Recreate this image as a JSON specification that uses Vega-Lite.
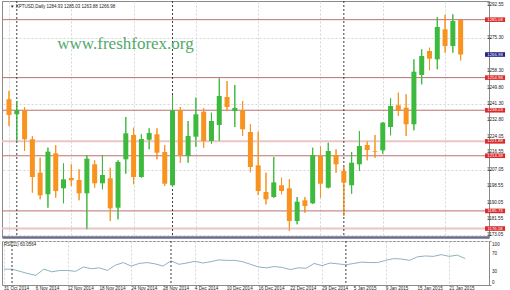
{
  "$schema": "https://vega.github.io/schema/vega-lite/v6.json",
  "background": "white",
  "padding": 0,
  "spacing": 2,
  "config": {
    "view": {"stroke": "#8a8a8a", "strokeWidth": 1},
    "axis": {"labels": false, "title": null, "gridColor": "#d6d6d6", "gridDash": [2, 2], "gridWidth": 1, "domainColor": "#8a8a8a", "tickColor": "#8a8a8a"},
    "text": {"font": "Liberation Sans"}
  },
  "datasets": {
    "candles": [
      {"i": 0, "o": 1243.71, "h": 1248.03, "l": 1229.84, "c": 1235.56},
      {"i": 1, "o": 1235.92, "h": 1242.83, "l": 1222.05, "c": 1238.00},
      {"i": 2, "o": 1238.00, "h": 1239.71, "l": 1216.86, "c": 1222.93},
      {"i": 3, "o": 1222.93, "h": 1224.65, "l": 1195.19, "c": 1203.35},
      {"i": 4, "o": 1205.58, "h": 1213.37, "l": 1191.76, "c": 1193.84},
      {"i": 5, "o": 1194.36, "h": 1218.57, "l": 1187.40, "c": 1216.49},
      {"i": 6, "o": 1215.66, "h": 1219.97, "l": 1192.60, "c": 1196.08},
      {"i": 7, "o": 1197.48, "h": 1210.47, "l": 1189.68, "c": 1202.16},
      {"i": 8, "o": 1202.83, "h": 1209.95, "l": 1198.67, "c": 1201.64},
      {"i": 9, "o": 1201.79, "h": 1207.35, "l": 1191.24, "c": 1194.88},
      {"i": 10, "o": 1194.88, "h": 1214.78, "l": 1176.18, "c": 1212.85},
      {"i": 11, "o": 1209.95, "h": 1212.02, "l": 1197.79, "c": 1200.07},
      {"i": 12, "o": 1200.07, "h": 1214.62, "l": 1196.96, "c": 1204.39},
      {"i": 13, "o": 1202.67, "h": 1208.18, "l": 1180.49, "c": 1187.09},
      {"i": 14, "o": 1187.40, "h": 1212.02, "l": 1181.37, "c": 1211.14},
      {"i": 15, "o": 1212.54, "h": 1234.52, "l": 1205.06, "c": 1226.05},
      {"i": 16, "o": 1225.17, "h": 1228.96, "l": 1199.56, "c": 1203.35},
      {"i": 17, "o": 1203.35, "h": 1225.53, "l": 1202.98, "c": 1223.09},
      {"i": 18, "o": 1222.72, "h": 1228.65, "l": 1217.74, "c": 1226.21},
      {"i": 19, "o": 1225.53, "h": 1228.65, "l": 1212.54, "c": 1215.97},
      {"i": 20, "o": 1216.34, "h": 1219.97, "l": 1198.67, "c": 1199.87},
      {"i": 21, "o": 1199.04, "h": 1245.95, "l": 1198.15, "c": 1238.00},
      {"i": 22, "o": 1238.00, "h": 1239.71, "l": 1210.78, "c": 1214.78},
      {"i": 23, "o": 1214.26, "h": 1232.44, "l": 1210.78, "c": 1224.65},
      {"i": 24, "o": 1224.28, "h": 1244.54, "l": 1219.09, "c": 1235.92},
      {"i": 25, "o": 1237.27, "h": 1239.04, "l": 1218.57, "c": 1222.05},
      {"i": 26, "o": 1222.05, "h": 1236.75, "l": 1220.65, "c": 1232.44},
      {"i": 27, "o": 1230.36, "h": 1254.62, "l": 1222.05, "c": 1245.43},
      {"i": 28, "o": 1244.91, "h": 1253.22, "l": 1237.63, "c": 1239.71},
      {"i": 29, "o": 1237.63, "h": 1251.14, "l": 1229.32, "c": 1239.19},
      {"i": 30, "o": 1238.00, "h": 1242.83, "l": 1224.65, "c": 1228.13},
      {"i": 31, "o": 1226.73, "h": 1230.73, "l": 1205.79, "c": 1208.55},
      {"i": 32, "o": 1209.43, "h": 1226.88, "l": 1194.00, "c": 1196.08},
      {"i": 33, "o": 1195.56, "h": 1205.58, "l": 1189.16, "c": 1191.76},
      {"i": 34, "o": 1192.96, "h": 1213.74, "l": 1192.60, "c": 1200.56},
      {"i": 35, "o": 1199.04, "h": 1202.98, "l": 1194.36, "c": 1196.08},
      {"i": 36, "o": 1197.48, "h": 1202.16, "l": 1175.30, "c": 1180.49},
      {"i": 37, "o": 1180.49, "h": 1192.96, "l": 1178.78, "c": 1190.52},
      {"i": 38, "o": 1191.24, "h": 1192.96, "l": 1184.80, "c": 1188.28},
      {"i": 39, "o": 1189.68, "h": 1218.57, "l": 1189.32, "c": 1214.78},
      {"i": 40, "o": 1214.26, "h": 1219.09, "l": 1192.60, "c": 1199.87},
      {"i": 41, "o": 1197.79, "h": 1221.17, "l": 1197.48, "c": 1216.86},
      {"i": 42, "o": 1214.78, "h": 1217.74, "l": 1205.58, "c": 1209.95},
      {"i": 43, "o": 1206.47, "h": 1209.06, "l": 1183.09, "c": 1200.39},
      {"i": 44, "o": 1199.04, "h": 1216.34, "l": 1194.67, "c": 1210.78},
      {"i": 45, "o": 1209.95, "h": 1227.25, "l": 1206.47, "c": 1219.45},
      {"i": 46, "o": 1219.97, "h": 1222.05, "l": 1212.02, "c": 1217.38},
      {"i": 47, "o": 1216.86, "h": 1225.17, "l": 1213.37, "c": 1216.49},
      {"i": 48, "o": 1217.22, "h": 1231.92, "l": 1215.45, "c": 1231.56},
      {"i": 49, "o": 1229.32, "h": 1244.23, "l": 1225.01, "c": 1240.23},
      {"i": 50, "o": 1240.60, "h": 1247.14, "l": 1235.04, "c": 1238.00},
      {"i": 51, "o": 1239.35, "h": 1246.31, "l": 1224.65, "c": 1230.73},
      {"i": 52, "o": 1230.73, "h": 1264.49, "l": 1227.61, "c": 1258.05},
      {"i": 53, "o": 1256.34, "h": 1269.69, "l": 1251.51, "c": 1266.21},
      {"i": 54, "o": 1268.81, "h": 1270.52, "l": 1258.78, "c": 1264.80},
      {"i": 55, "o": 1264.49, "h": 1286.47, "l": 1259.30, "c": 1281.27},
      {"i": 56, "o": 1280.08, "h": 1287.51, "l": 1267.92, "c": 1271.40},
      {"i": 57, "o": 1271.40, "h": 1287.87, "l": 1267.92, "c": 1284.39},
      {"i": 58, "o": 1284.93, "h": 1285.03, "l": 1263.88, "c": 1266.98}
    ],
    "rsi": [
      {"i": 0, "v": 36}, {"i": 1, "v": 36}, {"i": 2, "v": 31}, {"i": 3, "v": 26}, {"i": 4, "v": 22},
      {"i": 5, "v": 36}, {"i": 6, "v": 30}, {"i": 7, "v": 33}, {"i": 8, "v": 33}, {"i": 9, "v": 31},
      {"i": 10, "v": 41}, {"i": 11, "v": 37}, {"i": 12, "v": 39}, {"i": 13, "v": 33}, {"i": 14, "v": 45},
      {"i": 15, "v": 51}, {"i": 16, "v": 43}, {"i": 17, "v": 49}, {"i": 18, "v": 51}, {"i": 19, "v": 48},
      {"i": 20, "v": 43}, {"i": 21, "v": 55}, {"i": 22, "v": 47}, {"i": 23, "v": 50}, {"i": 24, "v": 54},
      {"i": 25, "v": 50}, {"i": 26, "v": 53}, {"i": 27, "v": 57}, {"i": 28, "v": 56}, {"i": 29, "v": 56},
      {"i": 30, "v": 53}, {"i": 31, "v": 47}, {"i": 32, "v": 41}, {"i": 33, "v": 39}, {"i": 34, "v": 42},
      {"i": 35, "v": 40}, {"i": 36, "v": 35}, {"i": 37, "v": 39}, {"i": 38, "v": 38}, {"i": 39, "v": 49},
      {"i": 40, "v": 44}, {"i": 41, "v": 50}, {"i": 42, "v": 48}, {"i": 43, "v": 46}, {"i": 44, "v": 49},
      {"i": 45, "v": 52}, {"i": 46, "v": 51}, {"i": 47, "v": 51}, {"i": 48, "v": 56}, {"i": 49, "v": 60},
      {"i": 50, "v": 59}, {"i": 51, "v": 56}, {"i": 52, "v": 64}, {"i": 53, "v": 66}, {"i": 54, "v": 65},
      {"i": 55, "v": 69}, {"i": 56, "v": 65}, {"i": 57, "v": 68}, {"i": 58, "v": 60.06}
    ],
    "levels": [
      {"p": 1285.08, "kind": "major"},
      {"p": 1254.98, "kind": "major"},
      {"p": 1238.03, "kind": "major"},
      {"p": 1221.88, "kind": "minor"},
      {"p": 1214.38, "kind": "major"},
      {"p": 1185.73, "kind": "major"},
      {"p": 1176.58, "kind": "minor"},
      {"p": 1266.98, "kind": "bid"}
    ],
    "pticks": [
      {"p": 1173.05}, {"p": 1181.55}, {"p": 1190.05}, {"p": 1198.55}, {"p": 1207.05}, {"p": 1216.55},
      {"p": 1224.05}, {"p": 1232.80}, {"p": 1241.30}, {"p": 1249.80}, {"p": 1258.30}, {"p": 1275.30}, {"p": 1292.55}
    ],
    "rticks": [{"v": 0}, {"v": 30}, {"v": 70}, {"v": 100}],
    "dates": [
      {"i": 0, "t": "31 Oct 2014"}, {"i": 4, "t": "6 Nov 2014"}, {"i": 8, "t": "12 Nov 2014"},
      {"i": 12, "t": "18 Nov 2014"}, {"i": 16, "t": "24 Nov 2014"}, {"i": 20, "t": "28 Nov 2014"},
      {"i": 24, "t": "4 Dec 2014"}, {"i": 28, "t": "10 Dec 2014"}, {"i": 32, "t": "16 Dec 2014"},
      {"i": 36, "t": "22 Dec 2014"}, {"i": 40, "t": "29 Dec 2014"}, {"i": 44, "t": "5 Jan 2015"},
      {"i": 48, "t": "9 Jan 2015"}, {"i": 52, "t": "15 Jan 2015"}, {"i": 56, "t": "21 Jan 2015"}
    ],
    "seps": [{"i": 1}, {"i": 21}, {"i": 43}]
  },
  "vconcat": [
    {
      "width": 487,
      "height": 236,
      "layer": [
        {
          "data": {"name": "candles"},
          "mark": {"type": "rule", "clip": true, "strokeWidth": 1},
          "encoding": {
            "x": {"field": "i", "type": "quantitative", "scale": {"domain": [-0.258, 61.0], "nice": false, "zero": false},
                  "axis": {"orient": "bottom", "values": [0, 4, 8, 12, 16, 20, 24, 28, 32, 36, 40, 44, 48, 52, 56], "ticks": false, "grid": true, "domainColor": "#6b6d8c", "domainWidth": 2.5}},
            "y": {"field": "l", "type": "quantitative", "scale": {"domain": [1172.18, 1294.78], "nice": false, "zero": false},
                  "axis": {"orient": "right", "values": [1173.05, 1181.55, 1190.05, 1198.55, 1207.05, 1216.55, 1224.05, 1232.8, 1241.3, 1249.8, 1258.3, 1266.8, 1275.3, 1283.8, 1292.55], "grid": true, "tickSize": 2}},
            "y2": {"field": "h"},
            "color": {"condition": {"test": "datum.c >= datum.o", "value": "#3dba3d"}, "value": "#f7931e"}
          }
        },
        {
          "data": {"name": "levels"},
          "transform": [{"filter": "datum.kind !== 'bid'"}],
          "mark": {"type": "rule"},
          "encoding": {
            "y": {"field": "p", "type": "quantitative"},
            "color": {"condition": {"test": "datum.kind === 'minor'", "value": "#ebc4c4"}, "value": "#b87272"},
            "strokeWidth": {"condition": {"test": "datum.kind === 'minor'", "value": 2}, "value": 1}
          }
        },
        {
          "data": {"name": "seps"},
          "mark": {"type": "rule", "strokeDash": [2, 2], "color": "#3c3c3c", "strokeWidth": 1},
          "encoding": {"x": {"field": "i", "type": "quantitative"}}
        },
        {
          "data": {"name": "candles"},
          "mark": {"type": "rule", "clip": true, "strokeWidth": 1},
          "encoding": {
            "x": {"field": "i", "type": "quantitative"},
            "y": {"field": "l", "type": "quantitative"},
            "y2": {"field": "h"},
            "color": {"condition": {"test": "datum.c >= datum.o", "value": "#3dba3d"}, "value": "#f7931e"}
          }
        },
        {
          "data": {"name": "candles"},
          "mark": {"type": "bar", "size": 5, "clip": true},
          "encoding": {
            "x": {"field": "i", "type": "quantitative"},
            "y": {"field": "o", "type": "quantitative"},
            "y2": {"field": "c"},
            "color": {"condition": {"test": "datum.c >= datum.o", "value": "#3dba3d"}, "value": "#f7931e"}
          }
        },
        {
          "data": {"values": [{"t": "www.freshforex.org"}]},
          "mark": {"type": "text", "font": "Liberation Serif", "fontSize": 17, "color": "#52a86c", "align": "left", "baseline": "alphabetic"},
          "encoding": {
            "x": {"datum": 6.2, "type": "quantitative"},
            "y": {"datum": 1269.7, "type": "quantitative"},
            "text": {"field": "t"}
          }
        },
        {
          "data": {"values": [{"t": "▼  XPTUSD,Daily  1284.93 1285.03 1263.88 1266.98"}]},
          "mark": {"type": "text", "fontSize": 4.5, "color": "#222222", "align": "left", "baseline": "middle"},
          "encoding": {
            "x": {"datum": 0.12, "type": "quantitative"},
            "y": {"datum": 1291.8, "type": "quantitative"},
            "text": {"field": "t"}
          }
        },
        {
          "data": {"name": "pticks"},
          "mark": {"type": "text", "fontSize": 4.6, "color": "#222222", "align": "left", "baseline": "middle"},
          "encoding": {
            "x": {"datum": 61.38, "type": "quantitative"},
            "y": {"field": "p", "type": "quantitative"},
            "text": {"field": "p", "type": "quantitative", "format": ".2f"}
          }
        },
        {
          "data": {"name": "levels"},
          "mark": {"type": "point", "shape": "M-1,-0.23H1V0.23H-1Z", "size": 400, "filled": true, "opacity": 1, "strokeWidth": 0},
          "encoding": {
            "x": {"datum": 62.42, "type": "quantitative"},
            "y": {"field": "p", "type": "quantitative"},
            "color": {"condition": {"test": "datum.kind === 'bid'", "value": "#1f1f86"}, "value": "#d82a2a"}
          }
        },
        {
          "data": {"name": "levels"},
          "mark": {"type": "text", "fontSize": 4.3, "color": "white", "align": "center", "baseline": "middle"},
          "encoding": {
            "x": {"datum": 62.42, "type": "quantitative"},
            "y": {"field": "p", "type": "quantitative"},
            "text": {"field": "p", "type": "quantitative", "format": ".2f"}
          }
        }
      ]
    },
    {
      "width": 487,
      "height": 44,
      "layer": [
        {
          "data": {"name": "rsi"},
          "mark": {"type": "line", "color": "#8fb3bd", "strokeWidth": 1},
          "encoding": {
            "x": {"field": "i", "type": "quantitative", "scale": {"domain": [-0.258, 61.0], "nice": false, "zero": false},
                  "axis": {"orient": "bottom", "values": [0, 4, 8, 12, 16, 20, 24, 28, 32, 36, 40, 44, 48, 52, 56], "ticks": false, "grid": true}},
            "y": {"field": "v", "type": "quantitative", "scale": {"domain": [0, 100], "nice": false, "zero": false},
                  "axis": {"orient": "right", "values": [0, 30, 70, 100], "grid": true, "tickSize": 2}}
          }
        },
        {
          "data": {"name": "seps"},
          "mark": {"type": "rule", "strokeDash": [2, 2], "color": "#3c3c3c", "strokeWidth": 1},
          "encoding": {"x": {"field": "i", "type": "quantitative"}}
        },
        {
          "data": {"values": [{"t": "RSI(11) 60.0564"}]},
          "mark": {"type": "text", "fontSize": 4.5, "color": "#222222", "align": "left", "baseline": "middle"},
          "encoding": {
            "x": {"datum": -0.05, "type": "quantitative"},
            "y": {"datum": 91.6, "type": "quantitative"},
            "text": {"field": "t"}
          }
        },
        {
          "data": {"name": "rticks"},
          "transform": [{"filter": "datum.v > 0 && datum.v < 100"}],
          "mark": {"type": "text", "fontSize": 4.6, "color": "#222222", "align": "left", "baseline": "middle"},
          "encoding": {
            "x": {"datum": 61.38, "type": "quantitative"},
            "y": {"field": "v", "type": "quantitative"},
            "text": {"field": "v", "type": "quantitative"}
          }
        },
        {
          "data": {"name": "rticks"},
          "transform": [{"filter": "datum.v === 100"}],
          "mark": {"type": "text", "fontSize": 4.6, "color": "#222222", "align": "left", "baseline": "top", "dy": 0.5},
          "encoding": {
            "x": {"datum": 61.38, "type": "quantitative"},
            "y": {"field": "v", "type": "quantitative"},
            "text": {"field": "v", "type": "quantitative"}
          }
        },
        {
          "data": {"name": "rticks"},
          "transform": [{"filter": "datum.v === 0"}],
          "mark": {"type": "text", "fontSize": 4.6, "color": "#222222", "align": "left", "baseline": "bottom", "dy": -0.3},
          "encoding": {
            "x": {"datum": 61.38, "type": "quantitative"},
            "y": {"field": "v", "type": "quantitative"},
            "text": {"field": "v", "type": "quantitative"}
          }
        },
        {
          "data": {"name": "dates"},
          "mark": {"type": "text", "fontSize": 4.6, "color": "#222222", "align": "left", "baseline": "middle"},
          "encoding": {
            "x": {"field": "i", "type": "quantitative"},
            "y": {"datum": -10.2, "type": "quantitative"},
            "text": {"field": "t"}
          }
        }
      ]
    }
  ]
}
